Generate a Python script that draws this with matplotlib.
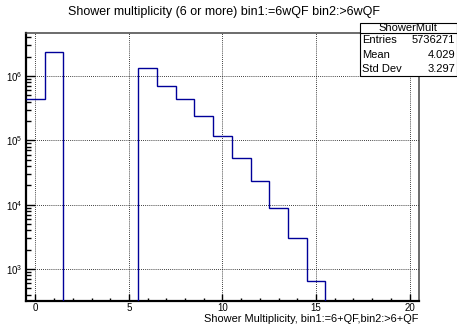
import numpy as np
import matplotlib
matplotlib.use("Agg")
import matplotlib.pyplot as plt
from matplotlib.patches import Rectangle
from matplotlib.lines import Line2D
from matplotlib.ticker import FixedLocator, LogLocator, LogFormatterSciNotation

plt.rcParams['font.family'] = ['Liberation Sans', 'DejaVu Sans']
plt.rcParams['mathtext.default'] = 'regular'

# ---- data ----
bin_edges = np.arange(-0.5, 21.0, 1.0)
counts = [4.39e5, 2.39e6, 0, 0, 0, 0, 1.33e6, 7.07e5, 4.35e5, 2.37e5, 1.17e5,
          5.37e4, 2.31e4, 8.87e3, 3.0e3, 650, 0, 0, 0, 0, 0]
title = "Shower multiplicity (6 or more) bin1:=6wQF bin2:>6wQF"
xlabel = "Shower Multiplicity, bin1:=6+QF,bin2:>6+QF"
stats_name = "ShowerMult"
stats_labels = ["Entries", "Mean", "Std Dev"]
stats_values = ["5736271", "4.029", "3.297"]

W, H = 457, 325
fig = plt.figure(figsize=(W / 100, H / 100), dpi=100)
L, R, T, B = 26, 419, 33.3, 300.5
ax = fig.add_axes([L / W, 1 - B / H, (R - L) / W, (B - T) / H])

ymin, ymax = 324, 4.6e6
vals = np.array(counts, dtype=float)
vals_plot = np.where(vals > 0, vals, ymin * 1e-3)
ax.stairs(vals_plot, bin_edges, color='#000099', lw=1.0, baseline=None, zorder=3)

ax.set_yscale('log')
ax.set_xlim(-0.5, 20.5)
ax.set_ylim(ymin, ymax)

ax.xaxis.set_major_locator(FixedLocator([0, 5, 10, 15, 20]))
ax.xaxis.set_minor_locator(FixedLocator(np.arange(0, 21, 1)))
ax.yaxis.set_major_locator(LogLocator(base=10, numticks=20))
ax.yaxis.set_minor_locator(LogLocator(base=10, subs=np.arange(2, 10), numticks=20))
ax.yaxis.set_major_formatter(LogFormatterSciNotation())
ax.yaxis.set_minor_formatter(plt.NullFormatter())

ax.tick_params(axis='both', which='both', direction='in', top=False, right=False,
               labelsize=7, colors='black', width=1.0)
ax.tick_params(axis='x', which='major', length=4.7, pad=1.5)
ax.tick_params(axis='x', which='minor', length=2.4)
ax.tick_params(axis='y', which='major', length=6.5, pad=2.5)
ax.tick_params(axis='y', which='minor', length=3.6)

ax.grid(True, which='major', linestyle=(0, (1, 1.5)), color='black', lw=0.6)

for s in ['left', 'bottom']:
    ax.spines[s].set_linewidth(1.6)
    ax.spines[s].set_color('black')
for s in ['top', 'right']:
    ax.spines[s].set_linewidth(1.1)
    ax.spines[s].set_color('#444444')

fig.text(224 / W, 1 - 12.3 / H, title, ha='center', va='center', fontsize=9)
fig.text(418.5 / W, 1 - 319 / H, xlabel, ha='right', va='center', fontsize=7.9)

# stats box
bx0, bx1, by0, by1 = 360, 456.5, 22.7, 76
fig.patches.append(Rectangle((bx0 / W, 1 - by1 / H), (bx1 - bx0) / W, (by1 - by0) / H,
                             transform=fig.transFigure, facecolor='white',
                             edgecolor='black', lw=0.8, zorder=10))
hdr = 33.3
fig.lines.append(Line2D([bx0 / W, bx1 / W], [1 - hdr / H, 1 - hdr / H],
                        transform=fig.transFigure, color='black', lw=0.8, zorder=11))
fig.text((bx0 + bx1) / 2 / W, 1 - 28.3 / H, stats_name, ha='center', va='center',
         fontsize=8, zorder=12)
row_h = (by1 - hdr) / 3
for i, (lab, val) in enumerate(zip(stats_labels, stats_values)):
    yc = hdr + row_h * (i + 0.5)
    fig.text(362 / W, 1 - yc / H, lab, ha='left', va='center', fontsize=8, zorder=12)
    fig.text(455 / W, 1 - yc / H, val, ha='right', va='center', fontsize=8, zorder=12)

fig.savefig('out.png', dpi=100)
